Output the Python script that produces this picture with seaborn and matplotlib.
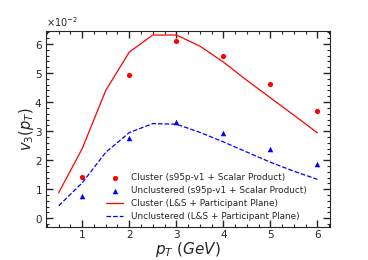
import numpy as np
import pandas as pd
import matplotlib
matplotlib.use('Agg')
import matplotlib.pyplot as plt
import seaborn as sns
from matplotlib.ticker import MultipleLocator

# measured points (s95p-v1 + Scalar Product), v3 in units of 1e-2
pt_pts = [1, 2, 3, 4, 5, 6]
v3_cluster_sp = [1.42, 4.95, 6.10, 5.57, 4.62, 3.70]
v3_uncl_sp = [0.78, 2.75, 3.32, 2.94, 2.37, 1.86]

# model curves (L&S + Participant Plane)
pt_line = [0.5, 1.0, 1.5, 2.0, 2.5, 3.0, 3.5, 4.0, 4.5, 5.0, 5.5, 6.0]
v3_cluster_pp = [0.88, 2.40, 4.40, 5.72, 6.31, 6.31, 5.93, 5.38, 4.75, 4.15, 3.55, 2.94]
v3_uncl_pp = [0.43, 1.22, 2.27, 2.95, 3.26, 3.24, 2.96, 2.63, 2.28, 1.93, 1.62, 1.34]

lab_c_sp = "Cluster (s95p-v1 + Scalar Product)"
lab_u_sp = "Unclustered (s95p-v1 + Scalar Product)"
lab_c_pp = "Cluster (L&S + Participant Plane)"
lab_u_pp = "Unclustered (L&S + Participant Plane)"

pts = pd.DataFrame({"pt": pt_pts,
                    "cl": np.array(v3_cluster_sp) * 1e-2,
                    "un": np.array(v3_uncl_sp) * 1e-2})
lines = pd.DataFrame({"pt": pt_line,
                      "cl": np.array(v3_cluster_pp) * 1e-2,
                      "un": np.array(v3_uncl_pp) * 1e-2})

sns.set_style("ticks")
plt.rcParams['font.family'] = ['DejaVu Sans']

fig = plt.figure(figsize=(3.68, 2.6), dpi=100)
ax = fig.add_axes([0.125, 0.127, 0.772, 0.754])

sns.scatterplot(data=pts, x="pt", y="cl", ax=ax, color="red", marker="o",
                s=14, linewidth=0, label=lab_c_sp)
sns.scatterplot(data=pts, x="pt", y="un", ax=ax, color="blue", marker="^",
                s=16, linewidth=0, label=lab_u_sp)
sns.lineplot(data=lines, x="pt", y="cl", ax=ax, color="red", lw=0.9,
             label=lab_c_pp)
sns.lineplot(data=lines, x="pt", y="un", ax=ax, color="blue", lw=0.9,
             linestyle="--", label=lab_u_pp)

ax.set_xlim(0.23, 6.27)
ax.set_ylim(-0.003, 0.0645)
ax.xaxis.set_major_locator(MultipleLocator(1))
ax.xaxis.set_minor_locator(MultipleLocator(0.25))
ax.yaxis.set_major_locator(MultipleLocator(0.01))
ax.yaxis.set_minor_locator(MultipleLocator(0.002))
ax.ticklabel_format(style='sci', axis='y', scilimits=(0, 0), useMathText=True)
ax.yaxis.get_offset_text().set_fontsize(7)

ax.tick_params(which='both', direction='in', top=True, right=True,
               labelsize=7.5, pad=2.5)
ax.tick_params(which='major', length=5, width=1)
ax.tick_params(which='minor', length=2.5, width=0.8)
for sp in ax.spines.values():
    sp.set_linewidth(0.8)

ax.set_xlabel(r"$p_T$ $(GeV)$", fontsize=11, labelpad=0)
ax.set_ylabel(r"$v_3(p_T)$", fontsize=10.5, labelpad=-1)

ax.legend(loc='lower right', bbox_to_anchor=(0.945, -0.012), frameon=False,
          fontsize=6.4, labelspacing=0.45, handlelength=2.0, handletextpad=0.8)

plt.savefig("out.png", dpi=100)
